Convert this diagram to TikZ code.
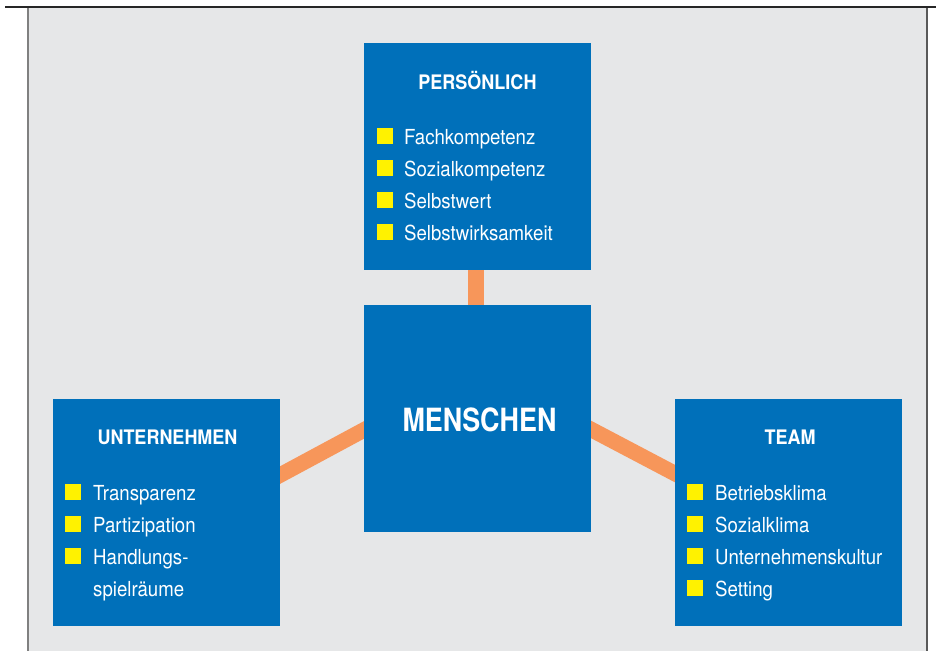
\documentclass[tikz,border=0pt]{standalone}
\usepackage{fontspec}
\setmainfont{TeX Gyre Heros}[FakeStretch=0.9]
\newfontfamily\bigfont{TeX Gyre Heros}[FakeStretch=0.84]
\usetikzlibrary{calc,backgrounds}
\definecolor{boxblue}{HTML}{0070BA}
\definecolor{linkorange}{HTML}{F7965A}
\definecolor{bullety}{HTML}{FFF200}
\definecolor{bggray}{HTML}{E6E7E8}
\tikzset{
  bluebox/.style={fill=boxblue, draw=none, minimum width=227pt, minimum height=227pt, inner sep=0pt},
  link/.style={draw=linkorange, line width=15.5pt, shorten <=-12pt, shorten >=-12pt},
  titletext/.style={text=white, anchor=base, inner sep=0pt, font=\fontsize{20}{24}\selectfont\bfseries},
  itemtext/.style={text=white, anchor=base west, inner sep=0pt, font=\fontsize{20.7}{24}\selectfont},
  bulletsq/.style={fill=bullety, draw=none, minimum width=16pt, minimum height=16pt, inner sep=0pt, anchor=south west}
}
\begin{document}
\begin{tikzpicture}[x=1pt,y=-1pt]
\useasboundingbox (0,0) rectangle (936,651);
% frame
\begin{pgfonlayer}{background}
\fill[bggray] (28,7.5) rectangle (927,651);
\end{pgfonlayer}
\draw[line width=1.5pt, draw=black!50] (28,7.5) -- (28,651);
\draw[line width=1.5pt, draw=black!65] (927,7.5) -- (927,651);
\draw[line width=1.2pt, draw=black!85] (5,7) -- (936,7);
% boxes
\node[bluebox] (p) at (477.5,156) {};
\node[bluebox] (m) at (477.5,418.5) {};
\node[bluebox] (u) at (166.5,512.5) {};
\node[bluebox] (t) at (788.5,512.5) {};
% connectors
\begin{pgfonlayer}{background}
\draw[link] ($(p.south)+(-1.5,0)$) -- ($(m.north)+(-1.5,0)$);
\draw[link] ($(u.east)+(0,-37.5)$) -- ($(m.west)+(0,11.5)$);
\draw[link] ($(m.east)+(0,11)$) -- ($(t.west)+(0,-39)$);
\end{pgfonlayer}
% center text
\node[text=white, inner sep=0pt, font=\bigfont\fontsize{32}{36}\selectfont\bfseries] (mt) at (479.5,419.5) {MENSCHEN};
% PERSOENLICH
\node[titletext] (pt) at (477.5,89) {PERSÖNLICH};
\node[bulletsq] (pb1) at (376.5,144) {};
\node[itemtext] (pi1) at (404,144) {Fachkompetenz};
\node[bulletsq] (pb2) at (376.5,176) {};
\node[itemtext] (pi2) at (404,176) {Sozialkompetenz};
\node[bulletsq] (pb3) at (376.5,208) {};
\node[itemtext] (pi3) at (404,208) {Selbstwert};
\node[bulletsq] (pb4) at (376.5,240) {};
\node[itemtext] (pi4) at (404,240) {Selbstwirksamkeit};
% UNTERNEHMEN
\node[titletext] (ut) at (167.5,444) {UNTERNEHMEN};
\node[bulletsq] (ub1) at (65,500) {};
\node[itemtext] (ui1) at (93,500) {Transparenz};
\node[bulletsq] (ub2) at (65,532) {};
\node[itemtext] (ui2) at (93,532) {Partizipation};
\node[bulletsq] (ub3) at (65,564) {};
\node[itemtext] (ui3) at (93,564) {Handlungs-};
\node[itemtext] (ui4) at (93,596) {spielräume};
% TEAM
\node[titletext] (tt) at (790,444) {TEAM};
\node[bulletsq] (tb1) at (687,500) {};
\node[itemtext] (ti1) at (715,500) {Betriebsklima};
\node[bulletsq] (tb2) at (687,532) {};
\node[itemtext] (ti2) at (715,532) {Sozialklima};
\node[bulletsq] (tb3) at (687,564) {};
\node[itemtext] (ti3) at (715,564) {Unternehmenskultur};
\node[bulletsq] (tb4) at (687,596) {};
\node[itemtext] (ti4) at (715,596) {Setting};
\end{tikzpicture}
\end{document}
